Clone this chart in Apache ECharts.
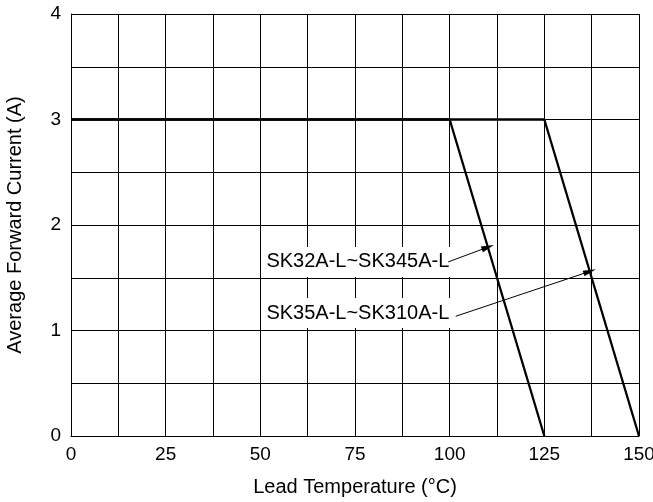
<!DOCTYPE html>
<html>
<head>
<meta charset="utf-8">
<script src="https://cdn.jsdelivr.net/npm/echarts@6/dist/echarts.min.js"></script>
<style>html,body{margin:0;padding:0;background:#fff}#c{width:653px;height:502px}</style>
</head>
<body>
<div id="c"></div>
<script>
// Data
const xTickLabels = [0, 25, 50, 75, 100, 125, 150];
const yTickLabels = [0, 1, 2, 3, 4];
const seriesNames = ['SK32A-L~SK345A-L', 'SK35A-L~SK310A-L'];
const curveA = [[0, 3], [100, 3], [125, 0]];
const curveB = [[0, 3], [125, 3], [150, 0]];
// annotation: label anchor points and arrow start/end in data units
const labelAnchors = [[51.6, 1.65], [51.6, 1.165]];
const arrowA = [[99.6, 1.65], [110.1, 1.79]];
const arrowB = [[101.6, 1.135], [137.0, 1.56]];

const FONT = 'Liberation Sans, Arial, sans-serif';
const chart = echarts.init(document.getElementById('c'), null, {renderer: 'canvas'});
const arrowLine = (pts) => [
  {coord: pts[0], symbol: 'none'},
  {coord: pts[1], symbol: 'triangle', symbolSize: [6, 13]}
];

chart.setOption({
  animation: false,
  backgroundColor: '#fff',
  grid: {left: 71, right: 14, top: 14, bottom: 66, show: false, containLabel: false, outerBoundsMode: 'none'},
  xAxis: {
    type: 'value', min: 0, max: 150, interval: 12.5,
    name: 'Lead Temperature (°C)', nameLocation: 'middle', nameGap: 41,
    nameTextStyle: {color: '#000', fontSize: 20, fontFamily: FONT},
    axisLine: {show: true, lineStyle: {color: '#000', width: 1}},
    axisTick: {show: false},
    axisLabel: {
      color: '#000', fontSize: 19, fontFamily: FONT, margin: 9,
      formatter: v => xTickLabels.indexOf(v) >= 0 ? String(v) : ''
    },
    splitLine: {show: true, lineStyle: {color: '#000', width: 1}}
  },
  yAxis: {
    type: 'value', min: 0, max: 4, interval: 0.5,
    name: 'Average Forward Current (A)', nameLocation: 'middle', nameGap: 46,
    nameTextStyle: {color: '#000', fontSize: 20, fontFamily: FONT},
    axisLine: {show: true, lineStyle: {color: '#000', width: 1}},
    axisTick: {show: false},
    axisLabel: {
      color: '#000', fontSize: 19, fontFamily: FONT, margin: 10,
      formatter: v => yTickLabels.indexOf(v) >= 0 ? String(v) : ''
    },
    splitLine: {show: true, lineStyle: {color: '#000', width: 1}}
  },
  series: [
    {type: 'line', data: curveA, symbol: 'none', lineStyle: {color: '#000', width: 2.3}, z: 2},
    {type: 'line', data: curveB, symbol: 'none', lineStyle: {color: '#000', width: 2.3}, z: 2},
    {
      type: 'scatter', symbolSize: 0, z: 3, silent: true,
      itemStyle: {opacity: 1, color: '#000'},
      data: labelAnchors.map((p, i) => ({value: p, name: seriesNames[i]})),
      label: {
        show: true, position: 'right', distance: 0,
        formatter: p => p.name,
        color: '#000', fontSize: 20, fontFamily: FONT, lineHeight: 20,
        backgroundColor: '#fff', padding: [5, 5, 5, 0]
      }
    },
    {
      type: 'line', data: [], z: 4, silent: true,
      markLine: {
        silent: true, animation: false,
        label: {show: false},
        lineStyle: {color: '#000', width: 1, type: 'solid'},
        emphasis: {disabled: true},
        data: [arrowLine(arrowA), arrowLine(arrowB)]
      }
    }
  ]
});
</script>
</body>
</html>
